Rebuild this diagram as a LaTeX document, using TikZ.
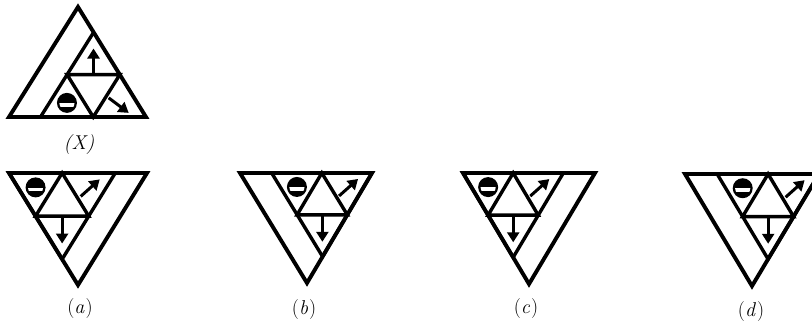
\documentclass[tikz,border=0pt]{standalone}
\usepackage{fontspec}
\usetikzlibrary{calc,arrows.meta}
\tikzset{
  fig/.style={line width=3.9pt, line join=miter},
  sub/.style={line width=3.4pt, line join=miter},
  arr/.style={line width=3pt, -{Triangle[length=10pt,width=12pt]}},
  lab/.style={font=\fontsize{20}{23}\selectfont, inner sep=0pt},
}
\newcommand\ballicon[1]{%
  \fill (#1) circle (10pt);
  \begin{scope}
    \clip (#1) circle (7.6pt);
    \fill[white] ($(#1)+(-10,0.2)$) rectangle ($(#1)+(10,3.8)$);
  \end{scope}}
\newcommand\optlab[1]{(\textit{#1}\kern0.05em)}
% inverted inner triangle: #1a top-left, #1b top-right, #1c bottom
\newcommand\invinner[1]{%
  \draw[sub] (#1a) -- (#1b) -- (#1c) -- cycle;
  \coordinate (#1ab) at ($(#1a)!0.5!(#1b)$);
  \coordinate (#1ac) at ($(#1a)!0.5!(#1c)$);
  \coordinate (#1bc) at ($(#1b)!0.5!(#1c)$);
  \draw[sub] (#1ab) -- (#1ac) -- (#1bc) -- cycle;
  \coordinate (#1tl) at ($0.6667*(#1a)+0.1667*(#1b)+0.1667*(#1c)$);
  \coordinate (#1tr) at ($0.1667*(#1a)+0.6667*(#1b)+0.1667*(#1c)$);
  \coordinate (#1bo) at ($0.1667*(#1a)+0.1667*(#1b)+0.6667*(#1c)$);
  \ballicon{#1tl}
  \draw[arr] ($(#1tr)+(-8,9)$) -- ($(#1tr)+(11,-8)$);
  \draw[arr] ($(#1bo)+(0,-14)$) -- ($(#1bo)+(0,13)$);}
\begin{document}
\begin{tikzpicture}[x=1pt,y=-1pt]
\useasboundingbox (0,0) rectangle (812,329);
\clip (0,0) rectangle (812,329);
% ---------- (X) ----------
\coordinate (XA) at (78,7);
\coordinate (XL) at (9,117);
\coordinate (XR) at (146,117);
\draw[fig] (XA) -- (XR) -- (XL) -- cycle;
\draw[line width=4.8pt] (XL) -- (XR);
\coordinate (XiL) at ($(XR)!0.77!(XL)$);
\coordinate (XiT) at ($(XR)!0.77!(XA)$);
\draw[sub] (XiL) -- (XiT);
\coordinate (XmL) at ($(XiL)!0.5!(XiT)$);
\coordinate (XmR) at ($(XR)!0.5!(XiT)$);
\coordinate (XmB) at ($(XiL)!0.5!(XR)$);
\draw[sub] (XmL) -- (XmR) -- (XmB) -- cycle;
\coordinate (Xtop) at ($0.6667*(XiT)+0.1667*(XiL)+0.1667*(XR)$);
\coordinate (Xbl) at ($0.1667*(XiT)+0.6667*(XiL)+0.1667*(XR)$);
\coordinate (Xbr) at ($0.1667*(XiT)+0.1667*(XiL)+0.6667*(XR)$);
\draw[arr] ($(Xtop)+(0,13)$) -- ($(Xtop)+(0,-12)$);
\ballicon{Xbl}
\draw[arr] ($(Xbr)+(-11,-5)$) -- ($(Xbr)+(9,10)$);
\node[lab] (labX) at (79,145) {\textit{(X)}};
% ---------- (a) ----------
\coordinate (aP) at (9,173);
\coordinate (aQ) at (147,173);
\coordinate (aR) at (78,285);
\draw[fig] (aP) -- (aQ) -- (aR) -- cycle;
\coordinate (aia) at (aP);
\coordinate (aib) at ($(aP)!0.77!(aQ)$);
\coordinate (aic) at ($(aP)!0.77!(aR)$);
\invinner{ai}
\node[lab] (laba) at (80,309) {\optlab{a}};
% ---------- (b) ----------
\coordinate (bP) at (240,173);
\coordinate (bQ) at (372,173);
\coordinate (bR) at (307,283);
\draw[fig] (bP) -- (bQ) -- (bR) -- cycle;
\coordinate (bia) at ($(bQ)!0.76!(bP)$);
\coordinate (bib) at (bQ);
\coordinate (bic) at ($(bQ)!0.76!(bR)$);
\invinner{bi}
\node[lab] (labb) at (304,310) {\optlab{b}};
% ---------- (c) ----------
\coordinate (cP) at (463,173);
\coordinate (cQ) at (595,173);
\coordinate (cR) at (529,284);
\draw[fig] (cP) -- (cQ) -- (cR) -- cycle;
\coordinate (cia) at (cP);
\coordinate (cib) at ($(cP)!0.76!(cQ)$);
\coordinate (cic) at ($(cP)!0.76!(cR)$);
\invinner{ci}
\node[lab] (labc) at (526,309) {\optlab{c}};
% ---------- (d) ----------
\coordinate (dP) at (685,174);
\coordinate (dQ) at (819,174);
\coordinate (dR) at (752,286);
\draw[fig] (dP) -- (dQ) -- (dR) -- cycle;
\coordinate (dia) at ($(dQ)!0.76!(dP)$);
\coordinate (dib) at (dQ);
\coordinate (dic) at ($(dQ)!0.76!(dR)$);
\invinner{di}
\node[lab] (labd) at (751,312) {\optlab{d}};
\end{tikzpicture}
\end{document}
